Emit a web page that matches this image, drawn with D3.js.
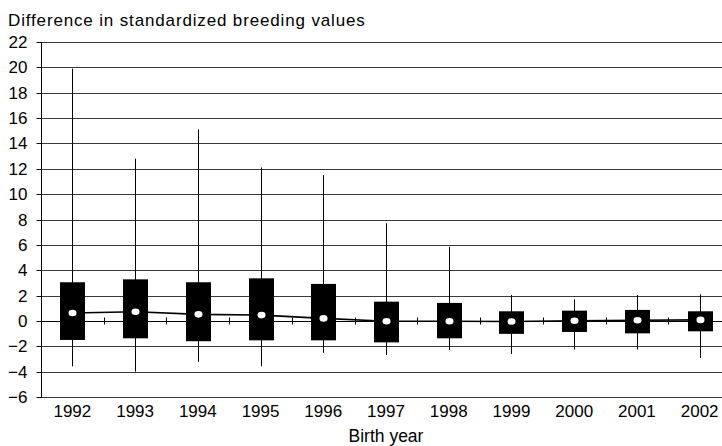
<!DOCTYPE html>
<html>
<head>
<meta charset="utf-8">
<script src="https://cdn.jsdelivr.net/npm/d3@7"></script>
<style>
  html, body { margin: 0; padding: 0; background: #fff; }
  svg { display: block; font-family: "Liberation Sans", Arial, sans-serif; }
</style>
</head>
<body>
<svg id="chart" width="722" height="446"></svg>
<script>
const years = ["1992","1993","1994","1995","1996","1997","1998","1999","2000","2001","2002"];
const whiskerHigh = [19.9, 12.8, 15.1, 12.1, 11.5, 7.7, 5.85, 2.05, 1.7, 2.05, 2.1];
const boxHigh     = [3.05, 3.28, 3.05, 3.36, 2.92, 1.52, 1.42, 0.76, 0.81, 0.87, 0.76];
const boxLow      = [-1.5, -1.37, -1.6, -1.53, -1.53, -1.69, -1.37, -1.02, -0.87, -0.98, -0.82];
const whiskerLow  = [-3.58, -4.0, -3.23, -3.58, -2.52, -2.68, -2.29, -2.6, -2.26, -2.26, -2.92];
const means       = [0.62, 0.72, 0.52, 0.46, 0.2, -0.03, -0.03, -0.05, 0.02, 0.05, 0.08];
const yTicks = [-6,-4,-2,0,2,4,6,8,10,12,14,16,18,20,22];
const yTitle = "Difference in standardized breeding values";
const xTitle = "Birth year";

const svg = d3.select("#chart");
const mLeft = 41, mRight = 731, mTop = 42, mBottom = 397;

const x = d3.scaleBand().domain(years).range([mLeft, mRight]).paddingInner(0).paddingOuter(0);
const y = d3.scaleLinear().domain([-6, 22]).range([mBottom, mTop]);

// gridlines
svg.append("g").selectAll("line").data(yTicks).join("line")
  .attr("x1", mLeft).attr("x2", 722)
  .attr("y1", d => Math.round(y(d)) + 0.5).attr("y2", d => Math.round(y(d)) + 0.5)
  .attr("stroke", d => d === 0 ? "#000" : "#3a3a3a").attr("stroke-width", 1);

// y axis
const yAxis = d3.axisLeft(y).tickValues(yTicks).tickSize(5).tickSizeOuter(0).tickPadding(9);
const gy = svg.append("g").attr("transform", `translate(${mLeft + 0.5},0)`).call(yAxis);
gy.select(".domain").attr("stroke", "#000").attr("d", `M0,${Math.round(y(22))+0.5}V${Math.round(y(-6))+0.5}`);
gy.selectAll(".tick").attr("transform", d => `translate(0,${Math.round(y(d))+0.5})`);
gy.selectAll(".tick line").attr("stroke", "#000");
gy.selectAll(".tick text").attr("font-size", 17).attr("fill", "#000")
  .attr("font-family", "'Liberation Sans', Arial, sans-serif").attr("dy", "0.35em");

// x category boundary ticks on zero line
const zy = Math.round(y(0)) + 0.5;
svg.append("g").selectAll("line").data(years.slice(1)).join("line")
  .attr("x1", d => Math.round(x(d)) + 0.5).attr("x2", d => Math.round(x(d)) + 0.5)
  .attr("y1", zy - 4).attr("y2", zy + 3)
  .attr("stroke", "#000").attr("stroke-width", 1);

// x labels
svg.append("g").selectAll("text").data(years).join("text")
  .attr("x", d => x(d) + x.bandwidth() / 2)
  .attr("y", 417)
  .attr("text-anchor", "middle")
  .attr("font-size", 17)
  .text(d => d);

const cx = i => Math.round(x(years[i]) + x.bandwidth() / 2);

// whiskers
svg.append("g").selectAll("line").data(years).join("line")
  .attr("x1", (d, i) => cx(i) + 0.5).attr("x2", (d, i) => cx(i) + 0.5)
  .attr("y1", (d, i) => y(whiskerHigh[i])).attr("y2", (d, i) => y(whiskerLow[i]))
  .attr("stroke", "#000").attr("stroke-width", 1);

// mean line
svg.append("path")
  .datum(years)
  .attr("fill", "none").attr("stroke", "#000").attr("stroke-width", 1.6)
  .attr("d", d3.line().x((d, i) => cx(i) + 0.5).y((d, i) => y(means[i])));

// boxes
const bw = 25;
svg.append("g").selectAll("rect").data(years).join("rect")
  .attr("x", (d, i) => cx(i) - bw / 2 + 0.5)
  .attr("width", bw)
  .attr("y", (d, i) => y(boxHigh[i]))
  .attr("height", (d, i) => y(boxLow[i]) - y(boxHigh[i]))
  .attr("fill", "#000");

// mean dots
svg.append("g").selectAll("ellipse").data(years).join("ellipse")
  .attr("cx", (d, i) => cx(i) + 0.5)
  .attr("cy", (d, i) => y(means[i]))
  .attr("rx", 4).attr("ry", 3.3)
  .attr("fill", "#fff");

// titles
svg.append("text").attr("x", 8).attr("y", 26).attr("font-size", 17)
  .attr("letter-spacing", "0.85px").text(yTitle);
svg.append("text").attr("x", (mLeft + mRight) / 2).attr("y", 442).attr("text-anchor", "middle")
  .attr("font-size", 17.5).text(xTitle);
</script>
</body>
</html>
